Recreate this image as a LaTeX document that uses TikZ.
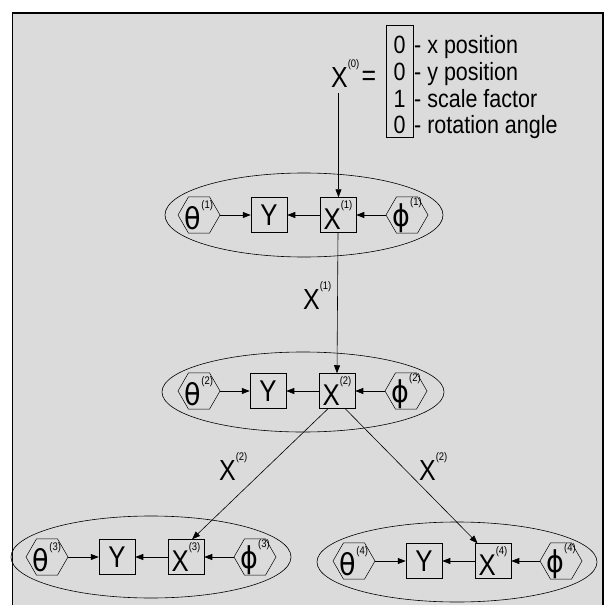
\documentclass[tikz,border=0pt]{standalone}
\usepackage{fontspec}
\setmainfont[FakeStretch=0.86]{Liberation Sans}
\newfontfamily\grk[FakeStretch=0.9]{DejaVu Sans}
\usetikzlibrary{shapes.geometric,arrows.meta}
\newcommand\supr[1]{\raisebox{0.68em}{\fontsize{11}{11}\selectfont(#1)}}
\begin{document}
\begin{tikzpicture}[x=1pt,y=-1pt,
  bg/.style={fill=black!14},
  box/.style={draw,line width=0.5pt,rectangle,minimum width=36pt,minimum height=35pt,inner sep=0pt,font=\fontsize{30}{30}\selectfont},
  hex/.style={draw,line width=0.5pt,regular polygon,regular polygon sides=6,minimum size=42pt,inner sep=0pt},
  hextxt/.style={font=\fontsize{30}{30}\selectfont,inner sep=0pt},
  grp/.style={draw,line width=0.6pt,ellipse,inner sep=0pt},
  arr/.style={-{Triangle[length=8pt,width=6pt]},line width=0.6pt},
  lbl/.style={font=\fontsize{29}{29}\selectfont,inner sep=0pt},
  key/.style={font=\fontsize{25}{25}\selectfont,inner sep=0pt}
]
\useasboundingbox (0,0) rectangle (606,605);
\fill[white] (0,0) rectangle (606,605);
\fill[bg] (12.5,13) rectangle (603,605);
\draw[line width=1.6pt] (12.5,605) -- (12.5,13) -- (603,13) -- (603,605);

% legend at top
\node[lbl,anchor=base west] (x0) at (331,87) {X\supr{0}};
\node[lbl] (eq) at (369,78) {=};
\node[draw,line width=0.6pt,minimum width=27pt,minimum height=112pt,inner sep=0pt] (mbox) at (399.5,81) {};
\node[key,anchor=base] (r1) at (399.5,53) {0};
\node[key,anchor=base] (r2) at (399.5,80) {0};
\node[key,anchor=base] (r3) at (399.5,107) {1};
\node[key,anchor=base] (r4) at (399.5,133) {0};
\node[key,anchor=base west] (n1) at (414,53) {- x position};
\node[key,anchor=base west] (n2) at (414,80) {- y position};
\node[key,anchor=base west] (n3) at (414,107) {- scale factor};
\node[key,anchor=base west] (n4) at (414,133) {- rotation angle};
\coordinate (s0) at (338.5,93);

% group ellipses
\node[grp,minimum width=278pt,minimum height=84pt] (e1) at (304,215) {};
\node[grp,minimum width=282pt,minimum height=80pt] (e2) at (303,392) {};
\node[grp,minimum width=280pt,minimum height=82pt] (e3) at (151,557) {};
\node[grp,minimum width=280pt,minimum height=80pt] (e4) at (457,562) {};

% row 1
\node[hex,label={[hextxt,name=tl1]center:{\grk θ}\supr{1}}] (t1) at (199,215) {};
\node[box] (y1) at (269,215) {Y};
\node[box] (x1) at (338,215) {X\supr{1}};
\node[hex,label={[hextxt,name=pl1]center:{\grk ϕ}\supr{1}}] (p1) at (407,215) {};
% row 2
\node[hex,label={[hextxt,name=tl2]center:{\grk θ}\supr{2}}] (t2) at (199,391) {};
\node[box] (y2) at (268,391) {Y};
\node[box] (x2) at (337,391) {X\supr{2}};
\node[hex,label={[hextxt,name=pl2]center:{\grk ϕ}\supr{2}}] (p2) at (406,391) {};
% row 3
\node[hex,label={[hextxt,name=tl3]center:{\grk θ}\supr{3}}] (t3) at (47,557) {};
\node[box] (y3) at (117,557) {Y};
\node[box] (x3) at (186,557) {X\supr{3}};
\node[hex,label={[hextxt,name=pl3]center:{\grk ϕ}\supr{3}}] (p3) at (255,557) {};
% row 4
\node[hex,label={[hextxt,name=tl4]center:{\grk θ}\supr{4}}] (t4) at (354,561) {};
\node[box] (y4) at (424,561) {Y};
\node[box] (x4) at (493,561) {X\supr{4}};
\node[hex,label={[hextxt,name=pl4]center:{\grk ϕ}\supr{4}}] (p4) at (561,561) {};

% edge labels
\node[lbl,anchor=base west] (l1) at (303,309) {X\supr{1}};
\node[lbl,anchor=base west] (l2) at (219,480) {X\supr{2}};
\node[lbl,anchor=base west] (l3) at (419,480) {X\supr{2}};

% arrows within groups
\foreach \i in {1,2,3,4}{
  \draw[arr] (t\i) -- (y\i);
  \draw[arr] (x\i) -- (y\i);
  \draw[arr] (p\i) -- (x\i);
}
% flow arrows
\draw[arr] (s0) -- (s0 |- x1.north);
\draw[arr] (x1.south) -- (x2.north);
\draw[arr] (x2.243) -- (x3.71);
\draw[arr] (x2.295) -- (x4.131);
\end{tikzpicture}
\end{document}
